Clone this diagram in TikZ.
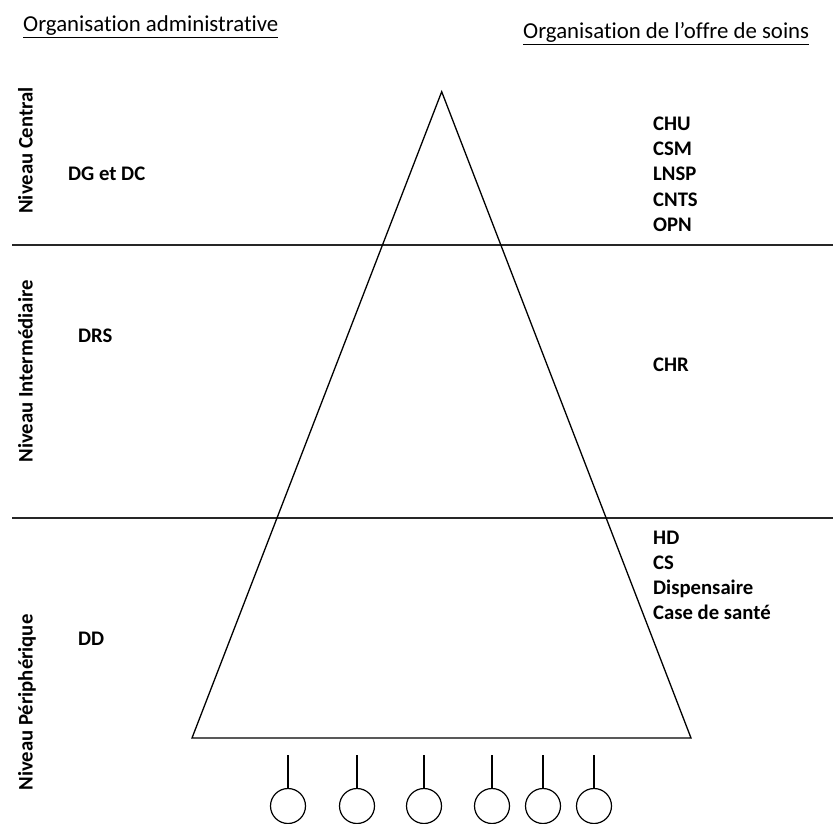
\documentclass[tikz,border=0pt]{standalone}
\usepackage{fontspec}
\setmainfont{Carlito}[Ligatures=NoCommon]
\begin{document}
\begin{tikzpicture}[x=1pt,y=-1pt,
  txt/.style={inner sep=0pt, font=\fontsize{20.7}{24}\selectfont},
  lbl/.style={txt, font=\fontsize{20.7}{24}\selectfont\bfseries, anchor=base west},
  vlbl/.style={txt, font=\fontsize{20.7}{24}\selectfont\bfseries, anchor=base, rotate=90},
  head/.style={txt, font=\fontsize{22.8}{26}\selectfont, anchor=base west},
  sep/.style={line width=2.4pt, draw=black!85},
  tri/.style={line width=1.3pt, draw=black},
  leaf/.style={circle, draw=black, line width=1.2pt, minimum size=35pt, inner sep=0pt},
  stem/.style={line width=1.2pt, draw=black}]
\useasboundingbox (0,0) rectangle (833,824);

% headings
\node[head] (hL) at (23,32) {\underline{Organisation administrative}};
\node[head] (hR) at (523,39) {\underline{Organisation de l’offre de soins}};

% separators
\coordinate (s1a) at (12,245); \coordinate (s1b) at (833,245);
\coordinate (s2a) at (12,518); \coordinate (s2b) at (833,518);
\draw[sep] (s1a) -- (s1b);
\draw[sep] (s2a) -- (s2b);

% pyramid
\coordinate (apex) at (441.7,91.7);
\coordinate (bl) at (192,738);
\coordinate (br) at (691,738);
\draw[tri, line join=miter] (apex) -- (bl) -- (br) -- cycle;

% vertical level labels
\node[vlbl] (vC) at (32.5,150.5) {Niveau Central};
\node[vlbl] (vI) at (32.5,371.5) {Niveau Intermédiaire};
\node[vlbl] (vP) at (32.5,702.5) {Niveau Périphérique};

% administrative labels
\node[lbl] (dg) at (68,181) {DG et DC};
\node[lbl] (drs) at (78,342) {DRS};
\node[lbl] (dd) at (78,645) {DD};

% health offer labels
\node[lbl] (chu) at (653,131) {CHU};
\node[lbl] (csm) at (653,156) {CSM};
\node[lbl] (lnsp) at (653,181) {LNSP};
\node[lbl] (cnts) at (653,206.5) {CNTS};
\node[lbl] (opn) at (653,231) {OPN};
\node[lbl] (chr) at (653,371) {CHR};
\node[lbl] (hd) at (653,544) {HD};
\node[lbl] (cs) at (653,569) {CS};
\node[lbl] (disp) at (653,594) {Dispensaire};
\node[lbl] (case) at (653,619) {Case de santé};

% leaves
\foreach \i/\x in {1/288,2/357,3/424,4/492,5/543,6/594}{
  \node[leaf] (c\i) at (\x,806) {};
  \coordinate (t\i) at (\x,755);
  \draw[stem] (t\i) -- (c\i.north);
}
\end{tikzpicture}
\end{document}
